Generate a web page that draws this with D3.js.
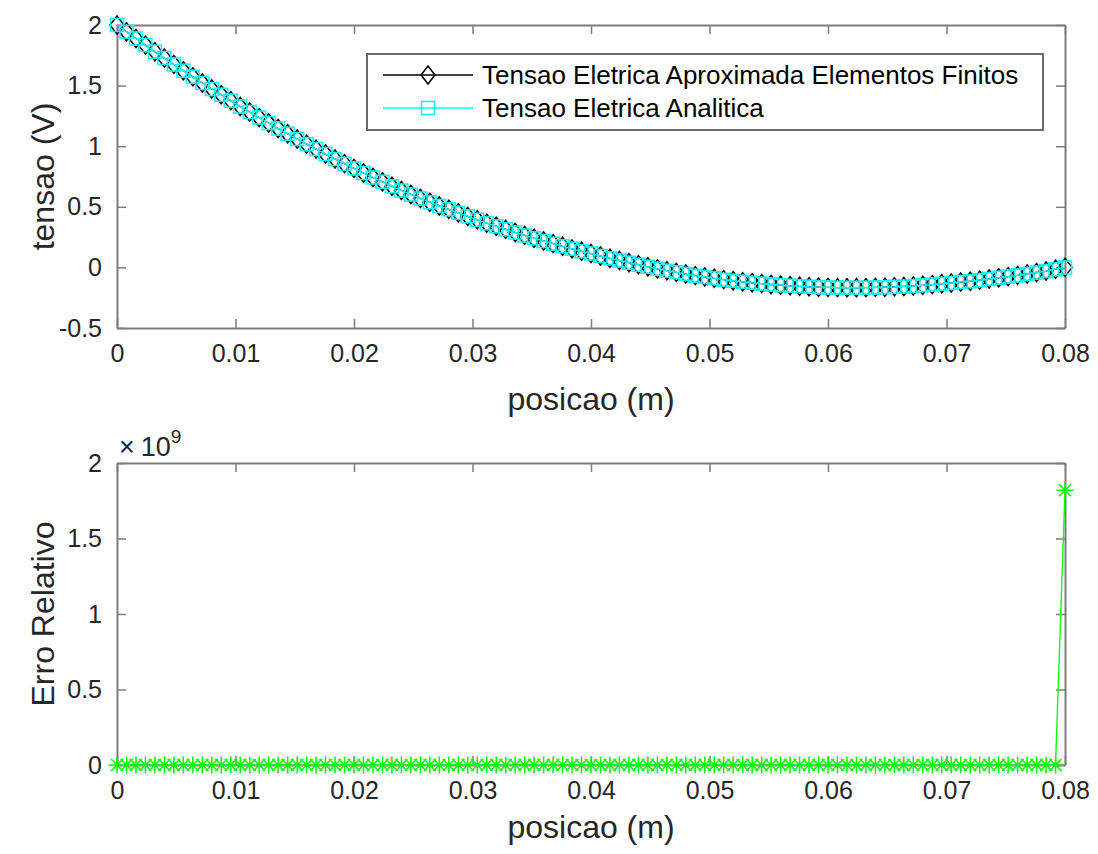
<!DOCTYPE html>
<html>
<head>
<meta charset="utf-8">
<script src="https://cdn.jsdelivr.net/npm/d3@7"></script>
<style>
  body { margin: 0; background: #fff; }
  text { font-family: "Liberation Sans", Arial, sans-serif; }
</style>
</head>
<body>
<svg id="svg1"></svg>
<script>
// posicao (m), 101 nodes
const posicao = [
  0, 0.0008, 0.0016, 0.0024, 0.0032, 0.004, 0.0048, 0.0056, 0.0064, 0.0072,
  0.008, 0.0088, 0.0096, 0.0104, 0.0112, 0.012, 0.0128, 0.0136, 0.0144, 0.0152,
  0.016, 0.0168, 0.0176, 0.0184, 0.0192, 0.02, 0.0208, 0.0216, 0.0224, 0.0232,
  0.024, 0.0248, 0.0256, 0.0264, 0.0272, 0.028, 0.0288, 0.0296, 0.0304, 0.0312,
  0.032, 0.0328, 0.0336, 0.0344, 0.0352, 0.036, 0.0368, 0.0376, 0.0384, 0.0392,
  0.04, 0.0408, 0.0416, 0.0424, 0.0432, 0.044, 0.0448, 0.0456, 0.0464, 0.0472,
  0.048, 0.0488, 0.0496, 0.0504, 0.0512, 0.052, 0.0528, 0.0536, 0.0544, 0.0552,
  0.056, 0.0568, 0.0576, 0.0584, 0.0592, 0.06, 0.0608, 0.0616, 0.0624, 0.0632,
  0.064, 0.0648, 0.0656, 0.0664, 0.0672, 0.068, 0.0688, 0.0696, 0.0704, 0.0712,
  0.072, 0.0728, 0.0736, 0.0744, 0.0752, 0.076, 0.0768, 0.0776, 0.0784, 0.0792,
  0.08
];

// tensao (V)
const tensaoElementosFinitos = [
  2.000, 1.944, 1.889, 1.834, 1.780, 1.727, 1.675, 1.623, 1.572, 1.522,
  1.472, 1.424, 1.376, 1.328, 1.282, 1.236, 1.191, 1.146, 1.103, 1.060,
  1.017, 0.976, 0.935, 0.895, 0.856, 0.817, 0.779, 0.742, 0.706, 0.670,
  0.635, 0.602, 0.569, 0.538, 0.507, 0.479, 0.450, 0.421, 0.393, 0.365,
  0.340, 0.314, 0.288, 0.264, 0.241, 0.218, 0.196, 0.174, 0.153, 0.133,
  0.114, 0.094, 0.075, 0.057, 0.039, 0.022, 0.005, -0.012, -0.027, -0.041,
  -0.055, -0.068, -0.079, -0.090, -0.101, -0.110, -0.119, -0.127, -0.134, -0.141,
  -0.147, -0.152, -0.156, -0.160, -0.163, -0.165, -0.167, -0.168, -0.168, -0.167,
  -0.165, -0.163, -0.160, -0.157, -0.153, -0.148, -0.142, -0.135, -0.128, -0.121,
  -0.114, -0.105, -0.096, -0.086, -0.076, -0.066, -0.054, -0.042, -0.030, -0.015,
  0.000
];
// analytic curve sits right on top of the FE one
const tensaoAnalitica = tensaoElementosFinitos.slice();

const erroRelativo = [
  0, 0, 0, 0, 0, 0, 0, 0, 0, 0,
  0, 0, 0, 0, 0, 0, 0, 0, 0, 0,
  0, 0, 0, 0, 0, 0, 0, 0, 0, 0,
  0, 0, 0, 0, 0, 0, 0, 0, 0, 0,
  0, 0, 0, 0, 0, 0, 0, 0, 0, 0,
  0, 0, 0, 0, 0, 0, 0, 0, 0, 0,
  0, 0, 0, 0, 0, 0, 0, 0, 0, 0,
  0, 0, 0, 0, 0, 0, 0, 0, 0, 0,
  0, 0, 0, 0, 0, 0, 0, 0, 0, 0,
  0, 0, 0, 0, 0, 0, 0, 0, 0, 0,
  1.82e9
];

const xTicks = [0, 0.01, 0.02, 0.03, 0.04, 0.05, 0.06, 0.07, 0.08];
const xTickLabels = ['0', '0.01', '0.02', '0.03', '0.04', '0.05', '0.06', '0.07', '0.08'];
const yTicksTensao = [-0.5, 0, 0.5, 1, 1.5, 2];
const yTickLabelsTensao = ['-0.5', '0', '0.5', '1', '1.5', '2'];
const yTicksErro = [0, 0.5e9, 1e9, 1.5e9, 2e9];
const yTickLabelsErro = ['0', '0.5', '1', '1.5', '2'];
const legendLabels = ['Tensao Eletrica Aproximada Elementos Finitos', 'Tensao Eletrica Analitica'];

const W = 1098, H = 854;
const axisColor = '#7d7d7d';
const textColor = '#262626';
const tickFont = 25;
const labelFont = 32;

const svg = d3.select('#svg1').attr('width', W).attr('height', H);

const diamond = 'M0,-9L7,0L0,9L-7,0Z';
const square = 'M-6.5,-6.5L6.5,-6.5L6.5,6.5L-6.5,6.5Z';
const asterisk = 'M-8.5,0L8.5,0M0,-8.5L0,8.5M-6,-6L6,6M-6,6L6,-6';

function drawAxes(box, xDomain, yDomain, yTicks, yLabels, xTitle, yTitle, xTitleY) {
  const x = d3.scaleLinear().domain(xDomain).range([box.left, box.right]);
  const y = d3.scaleLinear().domain(yDomain).range([box.bottom, box.top]);
  const g = svg.append('g');

  g.append('g')
      .attr('transform', 'translate(0,' + box.bottom + ')')
      .call(d3.axisBottom(x).tickValues(xTicks).tickFormat((d, i) => xTickLabels[i])
          .tickSizeInner(-9).tickSizeOuter(0).tickPadding(16));
  g.append('g')
      .attr('transform', 'translate(0,' + box.top + ')')
      .call(d3.axisTop(x).tickValues(xTicks).tickFormat('').tickSizeInner(-9).tickSizeOuter(0));
  g.append('g')
      .attr('transform', 'translate(' + box.left + ',0)')
      .call(d3.axisLeft(y).tickValues(yTicks).tickFormat((d, i) => yLabels[i])
          .tickSizeInner(-9).tickSizeOuter(0).tickPadding(15));
  g.append('g')
      .attr('transform', 'translate(' + box.right + ',0)')
      .call(d3.axisRight(y).tickValues(yTicks).tickFormat('').tickSizeInner(-9).tickSizeOuter(0));

  g.selectAll('.domain').attr('stroke', axisColor).attr('stroke-width', 2);
  g.selectAll('.tick line').attr('stroke', axisColor).attr('stroke-width', 1.5);
  g.selectAll('.tick text')
      .attr('fill', textColor)
      .style('font-size', tickFont + 'px')
      .style('font-family', '"Liberation Sans", Arial, sans-serif');

  svg.append('text')
      .attr('x', (box.left + box.right) / 2)
      .attr('y', xTitleY)
      .attr('text-anchor', 'middle')
      .attr('fill', textColor)
      .style('font-size', labelFont + 'px')
      .text(xTitle);
  svg.append('text')
      .attr('transform', 'translate(' + (box.left - 63) + ',' + ((box.top + box.bottom) / 2) + ')rotate(-90)')
      .attr('text-anchor', 'middle')
      .attr('fill', textColor)
      .style('font-size', labelFont + 'px')
      .text(yTitle);
  return {x, y};
}

function drawSeries(sc, xs, ys, color, width, shape) {
  const pts = xs.map((d, i) => [d, ys[i]]);
  svg.append('path')
      .datum(pts)
      .attr('fill', 'none')
      .attr('stroke', color)
      .attr('stroke-width', width)
      .attr('d', d3.line().x(d => sc.x(d[0])).y(d => sc.y(d[1])));
  svg.append('g').selectAll('path')
      .data(pts)
      .enter()
      .append('path')
      .attr('transform', d => 'translate(' + sc.x(d[0]) + ',' + sc.y(d[1]) + ')')
      .attr('d', shape)
      .attr('fill', 'none')
      .attr('stroke', color)
      .attr('stroke-width', 1.5);
}

// top panel
const boxTensao = {left: 117, right: 1065, top: 25, bottom: 328};
const sc1 = drawAxes(boxTensao, [0, 0.08], [-0.5, 2], yTicksTensao, yTickLabelsTensao, 'posicao (m)', 'tensao (V)', 410);
drawSeries(sc1, posicao, tensaoElementosFinitos, '#000', 1.3, diamond);
drawSeries(sc1, posicao, tensaoAnalitica, '#00ffff', 1.3, square);

// legend
const leg = svg.append('g');
leg.append('rect')
    .attr('x', 367).attr('y', 54).attr('width', 676).attr('height', 76)
    .attr('fill', '#fff').attr('stroke', '#6a6a6a').attr('stroke-width', 2);
const legRows = [
  {y: 75, color: '#000', shape: diamond},
  {y: 108, color: '#00ffff', shape: square}
];
legRows.forEach(function(r, i) {
  leg.append('line')
      .attr('x1', 383).attr('x2', 473).attr('y1', r.y).attr('y2', r.y)
      .attr('stroke', r.color).attr('stroke-width', 1.5);
  leg.append('path')
      .attr('transform', 'translate(428,' + r.y + ')')
      .attr('d', r.shape)
      .attr('fill', 'none').attr('stroke', r.color).attr('stroke-width', 1.5);
  leg.append('text')
      .attr('x', 482).attr('y', r.y + 9)
      .attr('fill', '#000')
      .style('font-size', '26px')
      .text(legendLabels[i]);
});

// bottom panel
const boxErro = {left: 117, right: 1065, top: 463, bottom: 765};
const sc2 = drawAxes(boxErro, [0, 0.08], [0, 2e9], yTicksErro, yTickLabelsErro, 'posicao (m)', 'Erro Relativo', 838);
drawSeries(sc2, posicao, erroRelativo, '#00ff00', 1.3, asterisk);

// exponent label
const ex = svg.append('text')
    .attr('x', 119).attr('y', 456)
    .attr('fill', textColor)
    .style('font-size', '27px');
ex.append('tspan').text('\u00d7');
ex.append('tspan').attr('dx', 6).text('10');
ex.append('tspan').attr('dy', -13).style('font-size', '19px').text('9');
</script>
</body>
</html>
